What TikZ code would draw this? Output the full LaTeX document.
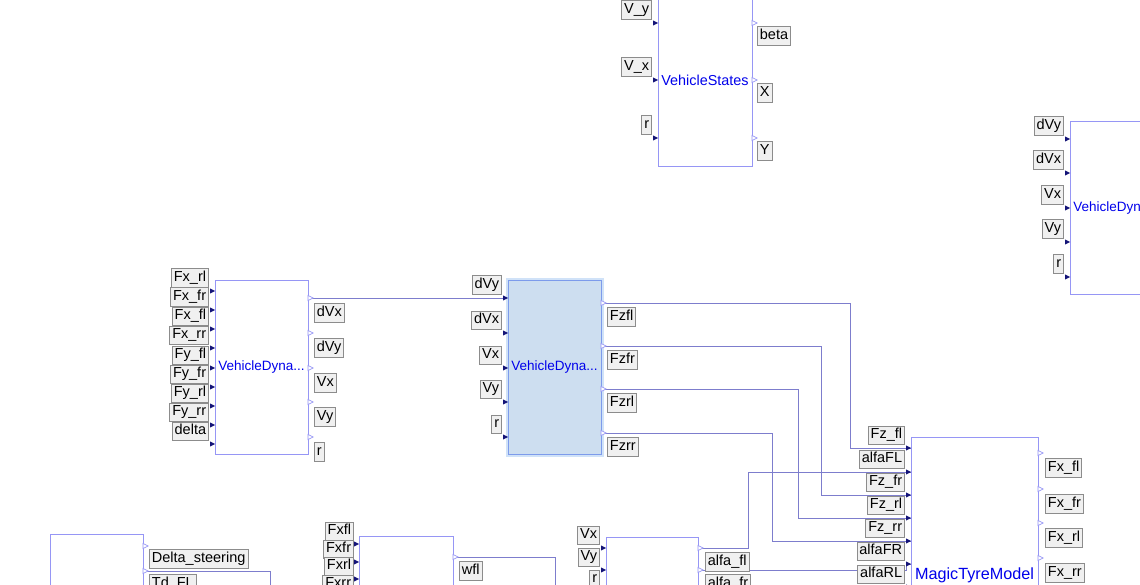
\documentclass[tikz,border=0pt]{standalone}
\usepackage{fontspec}
\setsansfont{Liberation Sans}
\usetikzlibrary{backgrounds}

\definecolor{wirec}{RGB}{125,125,205}
\definecolor{edgec}{RGB}{150,150,245}
\definecolor{portc}{RGB}{20,20,120}
\definecolor{tagfill}{RGB}{240,240,240}
\definecolor{tagline}{RGB}{140,140,140}
\definecolor{selfill}{RGB}{205,222,240}
\definecolor{seledge}{RGB}{125,155,235}
\definecolor{selhalo}{RGB}{208,226,248}

\begin{document}
\begin{tikzpicture}[
  x=1pt, y=-1pt,
  font=\sffamily,
  blk/.style={rectangle, draw=edgec, fill=white, line width=1pt, inner sep=0pt,
              text=blue!92!black, minimum width=93pt, minimum height=173pt,
              font=\sffamily\fontsize{13.5}{15}\selectfont},
  sel/.style={fill=selfill, draw=seledge, preaction={draw=selhalo, line width=5pt}},
  tag/.style={rectangle, draw=tagline, fill=tagfill, line width=0.8pt, text=black,
              inner xsep=2.5pt, inner ysep=2.5pt, text height=10.5pt, text depth=3.2pt,
              font=\sffamily\fontsize{14.5}{16}\selectfont},
  wire/.style={draw=wirec, line width=1pt},
  portin/.pic={\fill[portc] (-5,-2.6) -- (0,0) -- (-5,2.6) -- cycle;},
  portout/.pic={\draw[draw=edgec, fill=white, line width=0.7pt]
                (0,-2.6) -- (5,0) -- (0,2.6) -- cycle;},
]

% --- fixed frame ---
\useasboundingbox (0,0) rectangle (1140,585);
\clip (0,0) rectangle (1140,585);

% ============================ BLOCKS ================================
\node[blk, minimum width=94pt, font=\sffamily\fontsize{14.4}{16}\selectfont]
  (vstates) at (705,80.5) {VehicleStates};
\node[blk] (vdynR) at (1116.5,208) {VehicleDyna...};
\node[blk] (vdynL) at (261.5,367.5) {VehicleDyna...};
\node[blk, sel] (vdynM) at (554.5,367.5) {VehicleDyna...};
\node[blk, minimum width=127pt, minimum height=276pt,
      font=\sffamily\fontsize{16.2}{18}\selectfont]
  (magic) at (974.5,575) {MagicTyreModel};
\node[blk] (steer) at (96.5,620.5) {};
\node[blk, minimum width=94pt] (wheel) at (406,622.5) {};
\node[blk, minimum width=92pt] (slip) at (652,623.5) {};

% ============================ PORTS =================================
% VehicleStates
\foreach \y/\lab [count=\i] in {23/V\_y, 80/V\_x, 138/r} {
  \coordinate (vs-i\i) at (658,\y); \pic at (vs-i\i) {portin};
  \node[tag, anchor=south east] (vs-ti\i) at (652,\y-3) {\lab};
}
\foreach \y/\lab [count=\i] in {23/beta, 80/X, 138/Y} {
  \coordinate (vs-o\i) at (752,\y); \pic at (vs-o\i) {portout};
  \node[tag, anchor=north west] (vs-to\i) at (757,\y+3) {\lab};
}

% VehicleDyna (right, cut off)
\foreach \y/\lab [count=\i] in {139/dVy, 173/dVx, 208/Vx, 242/Vy, 277/r} {
  \coordinate (vr-i\i) at (1070,\y); \pic at (vr-i\i) {portin};
  \node[tag, anchor=south east] (vr-ti\i) at (1064,\y-3) {\lab};
}

% VehicleDyna (left)
\foreach \y/\lab [count=\i] in {291/Fx\_rl, 310/Fx\_fr, 329/Fx\_fl, 348/Fx\_rr,
    368/Fy\_fl, 387/Fy\_fr, 406/Fy\_rl, 425/Fy\_rr, 444/delta} {
  \coordinate (vl-i\i) at (215,\y); \pic at (vl-i\i) {portin};
  \node[tag, anchor=south east] (vl-ti\i) at (209,\y-3) {\lab};
}
\foreach \y/\lab [count=\i] in {298/dVx, 333/dVy, 368/Vx, 402/Vy, 437/r} {
  \coordinate (vl-o\i) at (308,\y); \pic at (vl-o\i) {portout};
  \node[tag, anchor=north west] (vl-to\i) at (314,\y+5) {\lab};
}

% VehicleDyna (middle, selected)
\foreach \y/\lab [count=\i] in {298/dVy, 333/dVx, 368/Vx, 402/Vy, 437/r} {
  \coordinate (vm-i\i) at (508,\y); \pic at (vm-i\i) {portin};
  \node[tag, anchor=south east] (vm-ti\i) at (502,\y-3) {\lab};
}
\foreach \y/\lab [count=\i] in {303/Fzfl, 346/Fzfr, 389/Fzrl, 433/Fzrr} {
  \coordinate (vm-o\i) at (601,\y); \pic at (vm-o\i) {portout};
  \node[tag, anchor=north west] (vm-to\i) at (607,\y+4) {\lab};
}

% MagicTyreModel
\foreach \y/\lab [count=\i] in {448/Fz\_fl, 472/alfaFL, 495/Fz\_fr, 518/Fz\_rl,
    541/Fz\_rr, 564/alfaFR, 587/alfaRL} {
  \coordinate (mt-i\i) at (911,\y); \pic at (mt-i\i) {portin};
  \node[tag, anchor=south east] (mt-ti\i) at (905,\y-3) {\lab};
}
\foreach \y/\lab [count=\i] in {453/Fx\_fl, 489/Fx\_fr, 523/Fx\_rl, 558/Fx\_rr} {
  \coordinate (mt-o\i) at (1038,\y); \pic at (mt-o\i) {portout};
  \node[tag, anchor=north west] (mt-to\i) at (1045,\y+5) {\lab};
}

% steering block
\foreach \y/\lab [count=\i] in {546/Delta\_steering, 571/Td\_FL} {
  \coordinate (st-o\i) at (143,\y); \pic at (st-o\i) {portout};
  \node[tag, anchor=north west] (st-to\i) at (149,\y+3) {\lab};
}

% wheel block
\foreach \y/\lab [count=\i] in {544/Fxfl, 562/Fxfr, 579/Fxrl, 597/Fxrr} {
  \coordinate (wh-i\i) at (359,\y); \pic at (wh-i\i) {portin};
  \node[tag, anchor=south east] (wh-ti\i) at (354,\y-3) {\lab};
}
\coordinate (wh-o1) at (453,557); \pic at (wh-o1) {portout};
\node[tag, anchor=north west] (wh-to1) at (459,561) {wfl};

% slip angle block
\foreach \y/\lab [count=\i] in {548/Vx, 570/Vy, 592/r} {
  \coordinate (sa-i\i) at (606,\y); \pic at (sa-i\i) {portin};
  \node[tag, anchor=south east] (sa-ti\i) at (600,\y-3) {\lab};
}
\foreach \y/\lab [count=\i] in {548/alfa\_fl, 570/alfa\_fr} {
  \coordinate (sa-o\i) at (698,\y); \pic at (sa-o\i) {portout};
  \node[tag, anchor=north west] (sa-to\i) at (705,\y+4) {\lab};
}

% loose ends running off the bottom edge
\coordinate (tdfl-end) at (270,600);
\coordinate (wfl-end) at (555,600);

% ============================ WIRES =================================
\begin{scope}[on background layer]
  \fill[white] (0,0) rectangle (1140,585);
  \draw[wire] (vl-o1) -- (vm-i1);
  \draw[wire] (vm-o1) -- ++(249,0) |- (mt-i1);
  \draw[wire] (vm-o2) -- ++(220,0) |- (mt-i3);
  \draw[wire] (vm-o3) -- ++(197,0) |- (mt-i4);
  \draw[wire] (vm-o4) -- ++(171,0) |- (mt-i5);
  \draw[wire] (sa-o1) -- ++(50,0) |- (mt-i2);
  \draw[wire] (sa-o2) -- ++(208,0) |- (mt-i6);
  \draw[wire] (st-o2) -| (tdfl-end);
  \draw[wire] (wh-o1) -| (wfl-end);
\end{scope}

\end{tikzpicture}
\end{document}
